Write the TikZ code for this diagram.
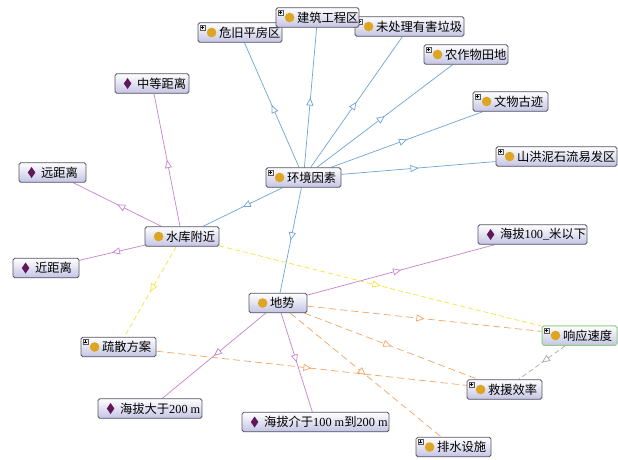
\documentclass[tikz,border=0pt]{standalone}
\usepackage{fontspec}
\setmainfont{Liberation Serif}
\newfontfamily\cjk{Noto Sans CJK SC}
\usetikzlibrary{arrows.meta,decorations.markings}
\pgfdeclarelayer{bg}
\pgfsetlayers{bg,main}
\definecolor{edgeblue}{RGB}{110,165,215}
\definecolor{edgepink}{RGB}{200,130,205}
\definecolor{edgeorange}{RGB}{240,165,100}
\definecolor{edgeyellow}{RGB}{245,228,60}
\definecolor{edgegray}{RGB}{170,170,170}
\definecolor{iconGold}{RGB}{222,165,35}
\definecolor{iconPurple}{RGB}{95,25,90}
\definecolor{boxbot}{RGB}{196,196,228}
\definecolor{boxline}{RGB}{85,85,100}
\definecolor{selgreen}{RGB}{140,205,135}
\tikzset{
  box/.style={draw=boxline, line width=0.8pt, rounded corners=1.8pt,
    top color=white, bottom color=boxbot, minimum height=19.5pt,
    inner xsep=0pt, inner ysep=0pt, font=\fontsize{12.3}{14}\selectfont},
  midarrow/.style={postaction={decorate, decoration={markings,
    mark=at position 0.5 with {\arrow{Triangle[length=8pt,width=7pt,fill=white]}}}}},
  isaedge/.style={draw=edgeblue, line width=0.7pt, midarrow},
  pinkedge/.style={draw=edgepink, line width=0.7pt, midarrow},
  orangeedge/.style={draw=edgeorange, line width=0.7pt, dash pattern=on 7pt off 4pt, midarrow},
  yellowedge/.style={draw=edgeyellow, line width=0.7pt, dash pattern=on 5pt off 3pt, midarrow},
  grayedge/.style={draw=edgegray, line width=0.7pt, dash pattern=on 5pt off 3pt, midarrow},
  plusbx/.style={fill=gray!15, draw=gray!70!black, line width=0.4pt},
}
\newcommand\clsnode[6][]{%
  \node[box,#1] (#2) at (#3,#4) {\makebox[#5pt][l]{\hspace*{21pt}#6}};
  \fill[iconGold] ([xshift=14pt]#2.west) circle (4.8pt);
}
\newcommand\indnode[6][]{%
  \node[box,#1] (#2) at (#3,#4) {\makebox[#5pt][l]{\hspace*{22pt}#6}};
  \fill[iconPurple] ([xshift=13pt]#2.west) +(0,5.5pt) -- +(3.8pt,0) -- +(0,-5.5pt) -- +(-3.8pt,0) -- cycle;
}
\newcommand\plusbox[1]{%
  \path ([xshift=2.5pt,yshift=-2.5pt]#1.north west) coordinate (pb);
  \filldraw[plusbx] (pb) rectangle ++(5pt,-5pt);
  \draw[line width=0.5pt] ([xshift=1pt,yshift=-2.5pt]pb) -- ++(3pt,0)
    ([xshift=2.5pt,yshift=-1pt]pb) -- ++(0,-3pt);
}
\begin{document}
\begin{tikzpicture}[x=1pt,y=-1pt]
\useasboundingbox (0,0) rectangle (618,459);
\begin{pgfonlayer}{bg}
  \fill[white] (0,0) rectangle (618,459);
\end{pgfonlayer}
% nodes
\clsnode{wj}{240}{32.5}{84}{\cjk 危旧平房区}\plusbox{wj}
\clsnode{wcl}{409.5}{26.5}{109}{\cjk 未处理有害垃圾}\plusbox{wcl}
\clsnode{jz}{317.5}{17.5}{83}{\cjk 建筑工程区}\plusbox{jz}
\clsnode{nzw}{466}{54.5}{84}{\cjk 农作物田地}\plusbox{nzw}
\clsnode{ww}{510.5}{101.5}{75}{\cjk 文物古迹}\plusbox{ww}
\clsnode{sh}{556.5}{156.5}{121}{\cjk 山洪泥石流易发区}\plusbox{sh}
\clsnode{env}{303.5}{177.5}{75}{\cjk 环境因素}\plusbox{env}
\indnode{hb1}{532.5}{234.5}{109}{{\cjk 海拔}100\_{\cjk 米以下}}
\indnode{zd}{152}{83.5}{74}{\cjk 中等距离}
\indnode{yj}{52.5}{172.5}{67}{\cjk 远距离}
\clsnode{sk}{182}{236.5}{74}{\cjk 水库附近}
\indnode{jj}{46}{268}{66}{\cjk 近距离}
\clsnode{ds}{278}{303}{58}{\cjk 地势}
\clsnode{ss}{118.5}{347}{75}{\cjk 疏散方案}\plusbox{ss}
\indnode{hb2}{150}{408.5}{104}{{\cjk 海拔大于}200 m}
\indnode{hb3}{315.5}{422}{147}{{\cjk 海拔介于}100 m{\cjk 到}200 m}
\clsnode[draw=selgreen,line width=1pt]{xy}{579.5}{335.5}{75}{\cjk 响应速度}\plusbox{xy}
\clsnode{jy}{504.5}{389.5}{75}{\cjk 救援效率}\plusbox{jy}
\clsnode{ps}{453.5}{447}{75}{\cjk 排水设施}\plusbox{ps}
% edges
\begin{pgfonlayer}{bg}
  \foreach \t in {wj,jz,wcl,nzw,ww,sh,sk,ds} \draw[isaedge] (env) -- (\t);
  \foreach \t in {zd,yj,jj} \draw[pinkedge] (sk) -- (\t);
  \foreach \t in {hb1,hb2,hb3} \draw[pinkedge] (ds) -- (\t);
  \foreach \t in {xy,jy,ps} \draw[orangeedge] (ds) -- (\t);
  \draw[orangeedge] (ss) -- (jy);
  \draw[yellowedge] (sk) -- (ss);
  \draw[yellowedge] (sk) -- (xy);
  \draw[grayedge] (xy) -- (jy);
\end{pgfonlayer}
\end{tikzpicture}
\end{document}
